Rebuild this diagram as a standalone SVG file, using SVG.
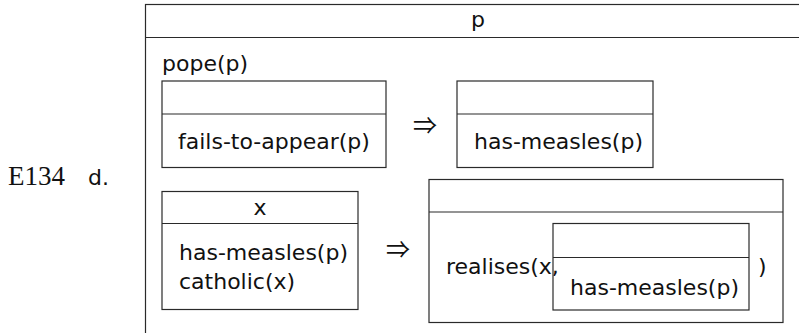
<svg xmlns="http://www.w3.org/2000/svg" width="799" height="333" viewBox="0 0 799 333">
  <style>
    .box { fill: none; stroke: #2a2a2a; stroke-width: 1.2; }
    .sep { stroke: #2a2a2a; stroke-width: 1.2; }
    .t { font-family: "DejaVu Sans", sans-serif; font-size: 22px; fill: #111; }
    .num { font-family: "Liberation Serif", serif; font-size: 27px; fill: #111; }
    .imp { font-family: "Noto Sans CJK JP", "DejaVu Sans", sans-serif; font-size: 24px; fill: #111; }
  </style>
  <rect width="799" height="333" fill="#fff"/>

  <!-- example label -->
  <g id="label">
    <text class="num" x="8" y="185">E134</text>
    <text class="t" x="88" y="185">d.</text>
  </g>

  <!-- main DRS: universe {p}, open at the right and bottom -->
  <g id="drs-main">
    <rect class="box" x="145.5" y="4.5" width="700" height="360"/>
    <line class="sep" x1="145.5" y1="37.5" x2="799" y2="37.5"/>
    <text class="t" x="478" y="27" text-anchor="middle">p</text>
    <text class="t" x="162" y="71">pope(p)</text>
  </g>

  <!-- antecedent: fails-to-appear(p) -->
  <g id="drs-fails">
    <rect class="box" x="162" y="81" width="224" height="86.5"/>
    <line class="sep" x1="162" y1="114" x2="386" y2="114"/>
    <text class="t" x="178" y="148.5">fails-to-appear(p)</text>
  </g>

  <!-- consequent: has-measles(p) -->
  <g id="drs-measles">
    <rect class="box" x="457" y="81" width="196" height="86.5"/>
    <line class="sep" x1="457" y1="114" x2="653" y2="114"/>
    <text class="t" x="474" y="148.5">has-measles(p)</text>
  </g>

  <!-- antecedent with universe {x} -->
  <g id="drs-catholic">
    <rect class="box" x="162" y="191.5" width="196" height="118"/>
    <line class="sep" x1="162" y1="223.5" x2="358" y2="223.5"/>
    <text class="t" x="260" y="215" text-anchor="middle">x</text>
    <text class="t" x="179" y="260">has-measles(p)</text>
    <text class="t" x="179" y="288.5">catholic(x)</text>
  </g>

  <!-- consequent: realises(x, [has-measles(p)]) -->
  <g id="drs-realises">
    <rect class="box" x="429" y="179.5" width="354" height="143"/>
    <line class="sep" x1="429" y1="212" x2="783" y2="212"/>
    <text class="t" x="446" y="273.5">realises(x,</text>
    <text class="t" x="758" y="273.5">)</text>
  </g>

  <g id="drs-inner">
    <rect class="box" x="553" y="223.5" width="196" height="86.5"/>
    <line class="sep" x1="553" y1="257.5" x2="749" y2="257.5"/>
    <text class="t" x="570" y="295">has-measles(p)</text>
  </g>

  <!-- implication arrows between antecedent and consequent boxes -->
  <g id="connectors">
    <text class="imp" x="425" y="134" text-anchor="middle">⇒</text>
    <text class="imp" x="398" y="258" text-anchor="middle">⇒</text>
  </g>
</svg>
